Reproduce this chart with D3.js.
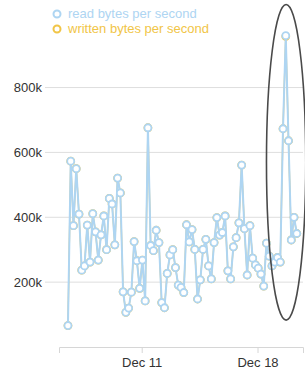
<!DOCTYPE html>
<html>
<head>
<meta charset="utf-8">
<script src="https://cdn.jsdelivr.net/npm/d3@7"></script>
<style>
  body { margin: 0; background: #fff; }
  text { font-family: "Liberation Sans", Arial, sans-serif; }
</style>
</head>
<body>
<div id="chart"></div>
<script>
// readings every 4 hours, in k bytes per second
let readK = [
  66, 573, 374, 550, 410, 237, 250, 376, 262, 411,
  355, 268, 346, 404, 300, 458, 441, 315, 521, 475,
  170, 107, 120, 169, 325, 266, 181, 268, 142, 676,
  313, 297, 360, 322, 137, 121, 227, 284, 300, 245,
  191, 184, 168, 377, 324, 362, 301, 148, 207, 301,
  332, 250, 210, 322, 399, 345, 353, 404, 235, 210,
  309, 337, 383, 561, 365, 222, 374, 274, 253, 243,
  225, 188, 320, 280, 250, 262, 276, 262, 673, 960,
  636, 330, 400, 350
];
// written rate sits almost exactly under the read rate
let writtenK = [
  66, 573, 374, 550, 410, 237, 250, 376, 262, 411,
  355, 268, 346, 404, 300, 458, 441, 315, 521, 475,
  170, 107, 120, 169, 325, 266, 181, 268, 142, 676,
  313, 297, 360, 322, 137, 121, 227, 284, 300, 245,
  191, 184, 168, 377, 324, 362, 301, 148, 207, 301,
  332, 250, 210, 322, 399, 345, 353, 404, 235, 210,
  309, 337, 383, 561, 365, 222, 374, 274, 253, 243,
  225, 188, 320, 280, 250, 262, 276, 262, 673, 958,
  636, 330, 400, 350
];
let seriesNames = ["read bytes per second", "written bytes per second"];
let yTicks = [200000, 400000, 600000, 800000];
let firstTime = new Date(2016, 11, 6, 13);
let xDomain = [new Date(2016, 11, 6, 0), new Date(2016, 11, 20, 18)];
// highlighted burst (the ellipse)
let highlight = {start: new Date(2016, 11, 18, 13), end: new Date(2016, 11, 20, 22), top: 1056000, bottom: 83000};

let colorRead = "#aed5f2";
let colorWritten = "#f1c547";

let width = 305,
    height = 374;

let svg = d3.select("#chart")
    .append("svg")
    .attr("width", width)
    .attr("height", height);

let x = d3.scaleTime()
    .domain(xDomain)
    .range([59, 303]);

let y = d3.scaleLinear()
    .domain([0, 1070000])
    .range([347, 0]);

let times = readK.map(function(d, i) { return d3.timeHour.offset(firstTime, 4 * i); });

// grid + y labels
let grid = svg.append("g");
grid.selectAll("line")
    .data(yTicks)
    .enter()
    .append("line")
    .attr("x1", 45)
    .attr("x2", 303)
    .attr("y1", function(d) { return y(d); })
    .attr("y2", function(d) { return y(d); })
    .style("stroke", "#dedede")
    .style("stroke-width", 1);

grid.selectAll("text")
    .data(yTicks)
    .enter()
    .append("text")
    .attr("x", 42)
    .attr("y", function(d) { return y(d); })
    .attr("dy", "0.35em")
    .attr("text-anchor", "end")
    .style("font-size", "13px")
    .style("fill", "#333")
    .text(function(d) { return d3.format(".0s")(d); });

// x axis
let xAxis = svg.append("g")
    .attr("transform", "translate(0," + y(0) + ")")
    .call(d3.axisBottom(x)
        .ticks(d3.timeWeek.every(1))
        .tickFormat(d3.timeFormat("%b %d"))
        .tickSizeOuter(0)
        .tickSize(6)
        .tickPadding(5));
xAxis.select(".domain").style("stroke", "#d6d6d6");
xAxis.selectAll(".tick line").style("stroke", "#d6d6d6");
xAxis.selectAll(".tick text")
    .style("font-size", "13px")
    .style("fill", "#333")
    .style("font-family", "'Liberation Sans', Arial, sans-serif");

// series
let line = d3.line()
    .x(function(d, i) { return x(times[i]); })
    .y(function(d) { return y(d * 1000); });

let series = [
    {values: writtenK, color: colorWritten, width: 1.4},
    {values: readK, color: colorRead, width: 2}
];

series.forEach(function(s) {
    svg.append("path")
        .datum(s.values)
        .attr("d", line)
        .style("fill", "none")
        .style("stroke", s.color)
        .style("stroke-width", s.width);

    svg.append("g")
        .selectAll("circle")
        .data(s.values)
        .enter()
        .append("circle")
        .attr("cx", function(d, i) { return x(times[i]); })
        .attr("cy", function(d) { return y(d * 1000); })
        .attr("r", 3.5)
        .style("fill", "#fff")
        .style("stroke", s.color)
        .style("stroke-width", 1.8);
});

// annotation ellipse
let ex0 = x(highlight.start), ex1 = x(highlight.end);
let ey0 = y(highlight.top), ey1 = y(highlight.bottom);
svg.append("ellipse")
    .attr("cx", (ex0 + ex1) / 2)
    .attr("cy", (ey0 + ey1) / 2)
    .attr("rx", (ex1 - ex0) / 2)
    .attr("ry", (ey1 - ey0) / 2)
    .style("fill", "none")
    .style("stroke", "#4a4a4a")
    .style("stroke-width", 1.6);

// legend
let legend = svg.append("g")
    .selectAll("g")
    .data(seriesNames)
    .enter()
    .append("g")
    .attr("transform", function(d, i) { return "translate(57," + (14 + i * 15) + ")"; });

legend.append("circle")
    .attr("r", 3.5)
    .style("fill", "#fff")
    .style("stroke", function(d, i) { return i == 0 ? colorRead : colorWritten; })
    .style("stroke-width", 2);

legend.append("text")
    .attr("x", 11)
    .attr("dy", "0.33em")
    .style("font-size", "13px")
    .style("fill", function(d, i) { return i == 0 ? colorRead : colorWritten; })
    .text(function(d) { return d; });
</script>
</body>
</html>
